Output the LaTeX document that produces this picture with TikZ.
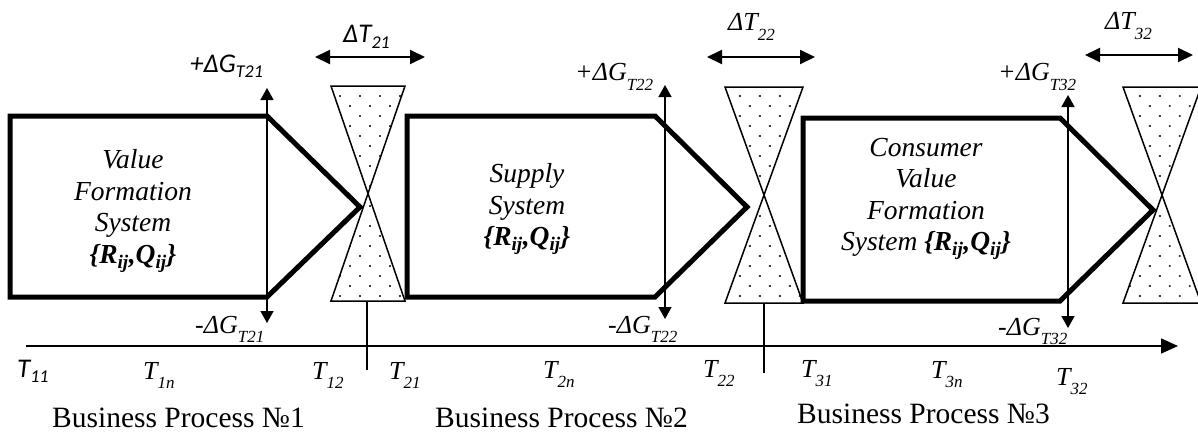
\documentclass[tikz,border=0pt]{standalone}
\usepackage{fontspec}
\setmainfont{Liberation Serif}
\newfontfamily\carl{Carlito}
\usetikzlibrary{arrows.meta,patterns.meta}
\newcommand{\lsub}[1]{\raisebox{-0.38em}{\fontsize{17}{17}\selectfont #1}}
\newcommand{\csub}[1]{\raisebox{-0.2em}{\fontsize{18}{18}\selectfont #1}}
\newcommand{\RQ}{\textbf{\{R\textsubscript{ij},Q\textsubscript{ij}\}}}
\begin{document}
\begin{tikzpicture}[x=1pt,y=-1pt,
  box/.style={line width=5pt, line join=miter},
  glass/.style={line width=1.5pt, line join=miter, pattern={Dots[distance=14.14pt,angle=45,radius=1.3pt]}, pattern color=black!75},
  varr/.style={line width=1.5pt, {Triangle[length=12pt,width=13pt]}-{Triangle[length=12pt,width=13pt]}},
  harr/.style={line width=2pt, {Triangle[length=15pt,width=14pt]}-{Triangle[length=15pt,width=14pt]}},
  axis/.style={line width=1.5pt, -{Triangle[length=17pt,width=15pt]}},
  tick/.style={line width=1.5pt},
  lab/.style={inner sep=0pt, font=\fontsize{26}{26}\selectfont\itshape},
  clab/.style={inner sep=0pt, font=\carl\fontsize{27}{27}\selectfont\itshape},
  btxt/.style={inner sep=0pt, align=center, font=\fontsize{27.5}{31.5}\selectfont\itshape},
  bp/.style={inner sep=0pt, anchor=base west, font=\fontsize{29.5}{29.5}\selectfont}]
\useasboundingbox (0,0) rectangle (1198,436);

% process boxes (pentagons)
\coordinate (p1a) at (10,116);  \coordinate (p1b) at (267,116); \coordinate (p1c) at (360,207);
\coordinate (p1d) at (267,297); \coordinate (p1e) at (10,297);
\draw[box] (p1a) -- (p1b) -- (p1c) -- (p1d) -- (p1e) -- cycle;
\coordinate (p2a) at (407,116); \coordinate (p2b) at (655,116); \coordinate (p2c) at (747,207);
\coordinate (p2d) at (655,297); \coordinate (p2e) at (407,297);
\draw[box] (p2a) -- (p2b) -- (p2c) -- (p2d) -- (p2e) -- cycle;
\coordinate (p3a) at (803,118); \coordinate (p3b) at (1060,118); \coordinate (p3c) at (1153,210);
\coordinate (p3d) at (1060,301); \coordinate (p3e) at (803,301);
\draw[box] (p3a) -- (p3b) -- (p3c) -- (p3d) -- (p3e) -- cycle;

% hourglasses
\coordinate (h1tl) at (331,86); \coordinate (h1tr) at (405,86); \coordinate (h1c) at (368,193.5);
\coordinate (h1bl) at (331,301); \coordinate (h1br) at (405,301);
\draw[glass] (h1tl) -- (h1tr) -- (h1c) -- cycle;
\draw[glass] (h1bl) -- (h1br) -- (h1c) -- cycle;
\coordinate (h2tl) at (725,87); \coordinate (h2tr) at (803,87); \coordinate (h2c) at (764,195);
\coordinate (h2bl) at (725,303); \coordinate (h2br) at (803,303);
\draw[glass] (h2tl) -- (h2tr) -- (h2c) -- cycle;
\draw[glass] (h2bl) -- (h2br) -- (h2c) -- cycle;
\coordinate (h3tl) at (1123,87); \coordinate (h3tr) at (1201,87); \coordinate (h3c) at (1162,195);
\coordinate (h3bl) at (1123,303); \coordinate (h3br) at (1201,303);
\draw[glass] (h3tl) -- (h3tr) -- (h3c) -- cycle;
\draw[glass] (h3bl) -- (h3br) -- (h3c) -- cycle;

% vertical arrows
\coordinate (g1t) at (267,88);  \coordinate (g1b) at (267,323);
\coordinate (g2t) at (665,85);  \coordinate (g2b) at (665,319);
\coordinate (g3t) at (1068,95); \coordinate (g3b) at (1068,328);
\draw[varr] (g1t) -- (g1b);
\draw[varr] (g2t) -- (g2b);
\draw[varr] (g3t) -- (g3b);

% delta T arrows
\coordinate (d1a) at (315,57);  \coordinate (d1b) at (425,57);
\coordinate (d2a) at (707,57);  \coordinate (d2b) at (815,57);
\coordinate (d3a) at (1085,55); \coordinate (d3b) at (1193,55);
\draw[harr] (d1a) -- (d1b);
\draw[harr] (d2a) -- (d2b);
\draw[harr] (d3a) -- (d3b);

% time axis and ticks
\coordinate (ax0) at (26,346); \coordinate (ax1) at (1178,346);
\draw[axis] (ax0) -- (ax1);
\coordinate (k1a) at (367,301); \coordinate (k1b) at (367,370);
\coordinate (k2a) at (764,303); \coordinate (k2b) at (764,373);
\draw[tick] (k1a) -- (k1b);
\draw[tick] (k2a) -- (k2b);

% box texts
\node[btxt] (s1) at (133,211) {Value\\Formation\\System\\\RQ};
\node[btxt] (s2) at (527,209) {Supply\\System\\\RQ};
\node[btxt] (s3) at (926,199) {Consumer\\Value\\Formation\\System \RQ};

% delta labels
\node[clab, anchor=base west] (dt1) at (343,43) {ΔT\csub{21}};
\node[lab, anchor=base west] (dt2) at (728,31) {ΔT\lsub{22}};
\node[lab, anchor=base west] (dt3) at (1105,30) {ΔT\lsub{32}};
\node[clab, anchor=base west] (gp1) at (190,72) {+ΔG\csub{T21}};
\node[lab, anchor=base west] (gp2) at (575,81) {+ΔG\lsub{T22}};
\node[lab, anchor=base west] (gp3) at (998,81) {+ΔG\lsub{T32}};
\node[lab, anchor=base west] (gm1) at (195,333) {-ΔG\lsub{T21}};
\node[lab, anchor=base west] (gm2) at (608,333) {-ΔG\lsub{T22}};
\node[lab, anchor=base west] (gm3) at (998,335) {-ΔG\lsub{T32}};

% time labels
\node[clab, anchor=base west] (t11) at (17,377) {T\csub{11}};
\node[lab, anchor=base west] (t1n) at (143,379) {T\lsub{1n}};
\node[lab, anchor=base west] (t12) at (312,379) {T\lsub{12}};
\node[lab, anchor=base west] (t21) at (389,379) {T\lsub{21}};
\node[lab, anchor=base west] (t2n) at (543,378) {T\lsub{2n}};
\node[lab, anchor=base west] (t22) at (703,377) {T\lsub{22}};
\node[lab, anchor=base west] (t31) at (801,377) {T\lsub{31}};
\node[lab, anchor=base west] (t3n) at (931,378) {T\lsub{3n}};
\node[lab, anchor=base west] (t32) at (1056,385) {T\lsub{32}};

% business process captions
\node[bp] (bp1) at (52,427) {Business Process №1};
\node[bp] (bp2) at (435,427) {Business Process №2};
\node[bp] (bp3) at (797,423) {Business Process №3};
\end{tikzpicture}
\end{document}
